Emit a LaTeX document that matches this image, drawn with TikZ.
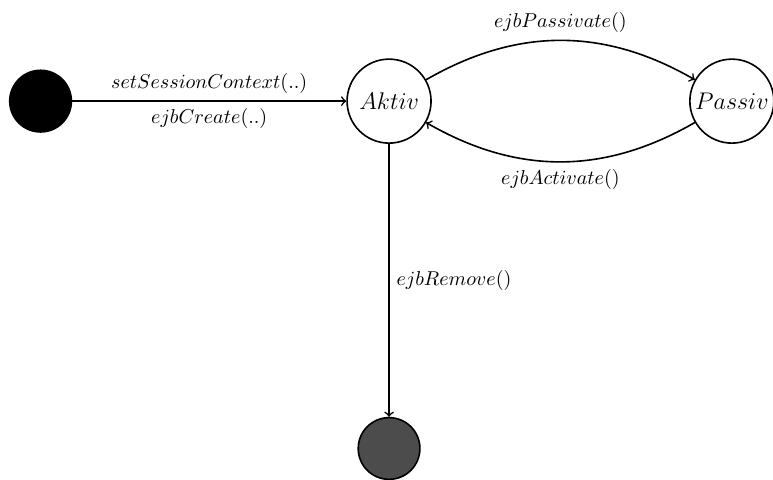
\documentclass[tikz,border=0pt]{standalone}
\usepackage{tikz}
\usetikzlibrary{positioning,arrows,automata,calc}
\tikzstyle{zustand} = [state,minimum size=1.47cm,inner sep=1pt,thick,font=\large]
\tikzstyle{punkt} = [state,minimum size=1.08cm,thick]

\begin{document}
\begin{tikzpicture}[
    ->,
    thick,
    auto,
    node distance=6cm
]

   \useasboundingbox (-6.81,1.77) rectangle (6.72,-6.62);

   \node[zustand]                  (A)              {$Aktiv$};
   \node[punkt,fill=black]         (S) [left of=A,xshift=-0.1cm]  {};
   \node[zustand]                  (P) [right of=A] {$Passiv$};
   \node[punkt,fill=black!70]      (E) [below of=A,yshift=-0.08cm] {};

   \path
     (S) edge node [above] {$setSessionContext(..)$}
              node [below] {$ejbCreate(..)$} (A)
     (A) edge [bend left=30] node {$ejbPassivate()$} (P)
         edge node {$ejbRemove()$} (E)
     (P) edge [bend left=30] node {$ejbActivate()$} (A)
     ;

\end{tikzpicture}
\end{document}
